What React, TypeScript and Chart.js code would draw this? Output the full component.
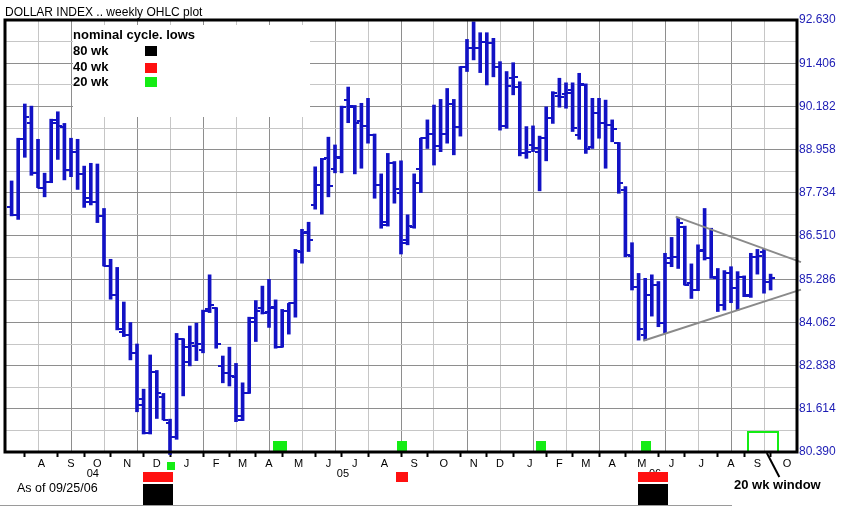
import React, { useEffect, useRef } from 'react';
import { Chart, registerables } from 'chart.js';

Chart.register(...registerables);

// Weekly OHLC bars of the US Dollar Index, first bar = week of Mon 19 Jul 2004
const opens = [
  87.34, 87.11, 89.25, 89.70, 88.29, 87.88, 88.04, 89.72, 89.61, 88.38,
  88.90, 88.27, 87.48, 87.48, 87.08, 85.66, 84.84, 83.80, 83.71, 83.19,
  81.88, 80.94, 82.67, 81.96, 81.20, 80.82, 83.58, 83.36, 83.39, 83.28,
  84.43, 84.46, 82.83, 82.62, 82.52, 81.30, 82.07, 84.08, 84.46, 84.37,
  84.51, 83.37, 84.39, 84.60, 86.07, 86.63, 87.39, 87.96, 88.71, 88.40,
  88.71, 90.36, 90.17, 89.78, 89.63, 89.37, 87.96, 86.82, 88.59, 87.74,
  86.40, 86.76, 88.40, 89.28, 89.40, 89.06, 89.40, 90.24, 89.59, 91.29,
  91.83, 91.83, 92.02, 91.97, 91.31, 89.63, 90.98, 90.74, 88.85, 89.09,
  88.90, 89.28, 89.84, 90.48, 90.53, 90.65, 89.37, 90.79, 89.04, 90.00,
  89.72, 89.66, 89.14, 87.81, 85.94, 85.07, 83.71, 84.84, 85.12, 84.04,
  85.88, 85.92, 86.77, 85.17, 84.98, 86.11, 85.88, 85.31, 84.56, 85.45,
  85.03, 85.36, 84.84, 85.92, 86.07, 85.22,
];
const highs = [
  88.07, 89.28, 90.25, 90.19, 89.25, 88.29, 89.82, 90.03, 89.70, 89.28,
  89.25, 88.49, 88.57, 88.55, 87.29, 85.85, 85.62, 84.64, 84.06, 83.45,
  82.17, 83.14, 82.70, 82.05, 81.32, 83.75, 83.60, 83.96, 84.04, 84.41,
  85.41, 84.48, 83.11, 83.36, 82.90, 82.35, 84.21, 84.68, 85.09, 85.28,
  84.70, 84.43, 84.60, 86.13, 86.70, 86.90, 88.47, 88.71, 89.31, 89.09,
  90.19, 90.73, 90.21, 90.27, 90.41, 89.40, 88.27, 88.85, 88.62, 88.64,
  87.11, 88.27, 89.28, 89.80, 90.22, 90.38, 90.69, 90.38, 91.31, 92.08,
  92.58, 92.27, 92.27, 92.11, 91.45, 91.17, 91.42, 90.88, 89.61, 89.63,
  89.34, 90.17, 90.60, 90.98, 90.85, 90.85, 91.12, 90.82, 90.41, 90.41,
  90.36, 89.80, 89.16, 87.91, 86.32, 85.45, 85.31, 85.41, 85.22, 86.02,
  86.47, 87.04, 86.79, 85.72, 86.26, 87.29, 86.73, 85.59, 85.53, 85.64,
  85.50, 85.38, 86.02, 86.13, 86.13, 85.43,
];
const lows = [
  87.08, 86.98, 88.74, 88.23, 87.88, 87.62, 88.02, 88.68, 88.10, 88.19,
  87.83, 87.32, 87.39, 86.89, 85.66, 84.72, 83.85, 83.66, 83.00, 81.53,
  80.90, 80.90, 81.34, 81.30, 80.32, 80.75, 81.98, 82.83, 82.98, 83.20,
  84.34, 83.33, 82.35, 82.26, 81.25, 81.28, 82.05, 83.52, 84.30, 83.92,
  83.33, 83.36, 83.73, 84.21, 85.74, 86.07, 87.27, 87.13, 87.62, 88.30,
  88.30, 89.72, 88.27, 88.43, 89.14, 87.58, 86.73, 86.79, 87.44, 86.00,
  86.26, 86.73, 87.74, 88.99, 88.52, 88.90, 89.14, 88.81, 89.34, 91.17,
  91.50, 91.14, 90.79, 91.02, 89.51, 89.56, 90.51, 88.78, 88.71, 88.90,
  87.79, 88.64, 89.70, 90.16, 90.13, 89.47, 89.25, 88.85, 88.99, 89.28,
  88.43, 89.18, 87.72, 85.92, 84.98, 83.56, 83.56, 84.24, 83.94, 83.75,
  85.64, 85.59, 85.12, 84.74, 84.96, 85.83, 85.31, 84.37, 84.41, 84.62,
  84.41, 84.79, 84.77, 85.43, 84.89, 84.98,
];
const closes = [
  87.11, 89.25, 89.89, 88.29, 87.88, 88.04, 89.80, 89.63, 88.38, 88.90,
  88.27, 87.58, 87.48, 87.08, 85.66, 84.84, 83.87, 83.71, 83.20, 81.72,
  80.92, 82.67, 82.05, 81.30, 80.82, 83.58, 82.95, 83.47, 83.45, 84.39,
  84.56, 83.45, 82.62, 82.54, 81.41, 82.05, 84.18, 84.39, 84.34, 84.46,
  83.37, 84.39, 84.60, 86.09, 86.59, 86.40, 87.96, 88.68, 87.93, 88.76,
  90.17, 90.19, 89.70, 89.63, 89.37, 87.96, 86.92, 88.59, 87.83, 86.32,
  86.79, 88.00, 89.28, 89.40, 89.06, 89.40, 90.24, 89.59, 91.29, 91.83,
  91.83, 92.02, 91.97, 91.29, 89.63, 90.76, 91.02, 88.87, 88.90, 88.99,
  89.28, 89.84, 90.57, 90.44, 90.55, 89.56, 90.82, 88.97, 89.99, 89.72,
  89.66, 89.53, 88.00, 85.97, 85.07, 83.87, 84.84, 85.12, 84.04, 85.74,
  85.91, 86.87, 85.12, 84.98, 86.09, 85.88, 85.36, 84.56, 85.45, 85.03,
  85.36, 84.81, 85.92, 85.94, 85.22, 85.31,
];

// right-hand price scale
const priceTicks = [80.39, 81.614, 82.838, 84.062, 85.286, 86.51, 87.734, 88.958, 90.182, 91.406, 92.63];

// month axis (week index of first bar of each month, last entry closes October 2006)
const monthStarts = [2, 7, 11, 15, 20, 24, 29, 33, 37, 41, 46, 50, 54, 59, 63, 68, 72, 76, 81, 85, 89, 93, 98, 102, 107, 111, 115, 120];
const monthLetters = ['A', 'S', 'O', 'N', 'D', 'J', 'F', 'M', 'A', 'M', 'J', 'J', 'A', 'S', 'O', 'N', 'D', 'J', 'F', 'M', 'A', 'M', 'J', 'J', 'A', 'S', 'O'];
const yearLabels = ['04', '05', '06'];
const yearWeeks = [12.3, 50.2, 97.5];

// nominal cycle lows (week index)
const lows80wk = [22.2, 97.2];
const lows40wk = [22.2, 59.1, 97.2];
const lows20wk = [40.7, 59.2, 80.2, 96.1];
const lows20wkAxis = [24.2];
const window20wk = 113.9;

// triangle trend lines
const triUpperX = [100.62, 119.6];
const triUpperY = [87.06, 85.77];
const triLowerX = [95.71, 119.6];
const triLowerY = [83.54, 84.99];

const X_MIN = -1;
const X_MAX = 119;
const GRID_EVERY = 5;

const FONT = '"Liberation Sans", Arial, sans-serif';
const BLUE = '#1212c4';
const GREEN = '#14ec14';
const RED = '#ff1010';
const DARK = '#8e8e8e';
const LIGHT = '#c6c6c6';
const CLEAR = 'rgba(0,0,0,0)';

function buildXTicks() {
  const m = new Map<number, any>();
  const get = (v: number) => {
    const key = Math.round(v * 100) / 100;
    if (!m.has(key)) m.set(key, { value: key, lbl: '' });
    return m.get(key);
  };
  for (let k = 1; k * GRID_EVERY + X_MIN < X_MAX; k++) {
    const t = get(k * GRID_EVERY + X_MIN);
    t.grid = true;
    t.dark = k % 2 === 0;
  }
  monthStarts.forEach((s, j) => {
    if (s > X_MIN && s < X_MAX) get(s).mark = true;
    if (j < monthLetters.length) get((s + monthStarts[j + 1]) / 2).lbl = monthLetters[j];
  });
  return [...m.values()].sort((a, b) => a.value - b.value);
}

function buildYTicks() {
  const out: any[] = [];
  priceTicks.forEach((v, j) => {
    out.push({ value: v, lbl: v.toFixed(3), dark: true });
    if (j < priceTicks.length - 1) out.push({ value: (v + priceTicks[j + 1]) / 2, lbl: '', dark: false });
  });
  return out;
}

const decor = {
  id: 'decor',
  beforeDatasetsDraw(chart: any) {
    const { ctx } = chart;
    ctx.save();
    ctx.fillStyle = '#fff';
    ctx.fillRect(73, 25, 237, 92);
    ctx.fillStyle = '#000';
    ctx.font = `bold 13px ${FONT}`;
    ctx.textBaseline = 'middle';
    ctx.textAlign = 'left';
    ctx.fillText('nominal cycle. lows', 73, 35);
    ctx.fillText('80 wk', 73, 51);
    ctx.fillText('40 wk', 73, 67);
    ctx.fillText('20 wk', 73, 82);
    ctx.fillStyle = '#000';
    ctx.fillRect(145, 46, 12, 10);
    ctx.fillStyle = RED;
    ctx.fillRect(145, 63, 12, 10);
    ctx.fillStyle = GREEN;
    ctx.fillRect(145, 77, 12, 10);
    ctx.restore();
  },
  afterDatasetsDraw(chart: any) {
    const { ctx, chartArea } = chart;
    const xs = chart.scales.x;
    ctx.save();
    // 20 wk lows sitting on the bottom of the plot
    lows20wk.forEach((w, j) => {
      const cx = xs.getPixelForValue(w);
      const wd = j === 0 ? 14 : 10;
      ctx.fillStyle = GREEN;
      ctx.fillRect(Math.round(cx - wd / 2), chartArea.bottom - 11, wd, 11);
    });
    // 20 wk window
    const wx = xs.getPixelForValue(window20wk);
    ctx.strokeStyle = GREEN;
    ctx.lineWidth = 2;
    ctx.strokeRect(Math.round(wx - 15), chartArea.bottom - 20, 30, 20);
    // plot frame
    ctx.strokeStyle = '#000';
    ctx.lineWidth = 3;
    ctx.strokeRect(chartArea.left, chartArea.top, chartArea.right - chartArea.left, chartArea.bottom - chartArea.top);
    ctx.restore();
  },
  afterDraw(chart: any) {
    const { ctx, chartArea } = chart;
    const xs = chart.scales.x;
    ctx.save();
    ctx.fillStyle = '#000';
    ctx.textBaseline = 'middle';
    ctx.textAlign = 'left';
    ctx.font = `12px ${FONT}`;
    ctx.fillText('DOLLAR INDEX .. weekly OHLC plot', 5, 13);
    ctx.font = `12.5px ${FONT}`;
    ctx.fillText('As of 09/25/06', 17, 489);
    ctx.font = `11px ${FONT}`;
    ctx.textAlign = 'center';
    yearLabels.forEach((t, j) => ctx.fillText(t, xs.getPixelForValue(yearWeeks[j]), 474));
    // cycle-low markers below the axis
    lows20wkAxis.forEach((w) => {
      ctx.fillStyle = GREEN;
      ctx.fillRect(Math.round(xs.getPixelForValue(w) - 4), 462, 8, 8);
    });
    lows40wk.forEach((w) => {
      const wd = lows80wk.some((v) => Math.abs(v - w) < 1) ? 30 : 12;
      ctx.fillStyle = RED;
      ctx.fillRect(Math.round(xs.getPixelForValue(w) - wd / 2), 472, wd, 10);
    });
    lows80wk.forEach((w) => {
      ctx.fillStyle = '#000';
      ctx.fillRect(Math.round(xs.getPixelForValue(w) - 15), 484, 30, 22);
    });
    // 20 wk window call-out
    const wx = xs.getPixelForValue(window20wk);
    ctx.strokeStyle = '#000';
    ctx.lineWidth = 2;
    ctx.beginPath();
    ctx.moveTo(wx + 3.5, chartArea.bottom + 1);
    ctx.lineTo(wx + 16, 477);
    ctx.stroke();
    ctx.fillStyle = '#000';
    ctx.font = `bold 13px ${FONT}`;
    ctx.textAlign = 'center';
    ctx.fillText('20 wk window', wx + 14, 485);
    // bottom gray rule
    ctx.fillStyle = '#9a9a9a';
    ctx.fillRect(0, 505, 732, 1);
    ctx.restore();
  },
};

export default function App() {
  const ref = useRef<HTMLCanvasElement>(null);
  useEffect(() => {
    const canvas = ref.current;
    if (!canvas) return;
    const mkTick = (left: boolean) => {
      const c = document.createElement('canvas');
      c.width = 9;
      c.height = 2;
      const g = c.getContext('2d')!;
      g.fillStyle = BLUE;
      g.fillRect(left ? 0 : 4, 0, 5, 2);
      return c;
    };
    const openTick = mkTick(true);
    const closeTick = mkTick(false);
    const idx = opens.map((_, i) => i);
    const xTicks = buildXTicks();
    const yTicks = buildYTicks();

    const chart = new Chart(canvas, {
      type: 'bar',
      data: {
        datasets: [
          {
            type: 'bar',
            data: idx.map((i) => ({ x: i, y: [lows[i], highs[i]] })) as any,
            backgroundColor: BLUE,
            borderWidth: 0,
            barThickness: 3,
            clip: false as any,
            order: 3,
          },
          {
            type: 'line',
            data: idx.map((i) => ({ x: i, y: opens[i] })) as any,
            showLine: false,
            pointStyle: openTick as any,
            pointRadius: 3,
            order: 1,
          },
          {
            type: 'line',
            data: idx.map((i) => ({ x: i, y: closes[i] })) as any,
            showLine: false,
            pointStyle: closeTick as any,
            pointRadius: 3,
            order: 1,
          },
          {
            type: 'line',
            data: triUpperX.map((x, j) => ({ x, y: triUpperY[j] })) as any,
            borderColor: '#8a8a8a',
            borderWidth: 2,
            pointRadius: 0,
            clip: false as any,
            order: 0,
          },
          {
            type: 'line',
            data: triLowerX.map((x, j) => ({ x, y: triLowerY[j] })) as any,
            borderColor: '#8a8a8a',
            borderWidth: 2,
            pointRadius: 0,
            clip: false as any,
            order: 0,
          },
        ],
      },
      options: {
        responsive: false,
        animation: false,
        devicePixelRatio: 1,
        events: [],
        layout: { padding: { left: 5, top: 20, right: 0, bottom: 0 } },
        plugins: { legend: { display: false }, tooltip: { enabled: false }, title: { display: false } },
        scales: {
          x: {
            type: 'linear',
            min: X_MIN,
            max: X_MAX,
            offset: false,
            position: 'bottom',
            border: { display: false },
            grid: {
              offset: false,
              drawOnChartArea: true,
              drawTicks: true,
              tickLength: 5,
              tickWidth: 2,
              lineWidth: 1,
              color: (c: any) => (c.tick && c.tick.grid ? (c.tick.dark ? DARK : LIGHT) : CLEAR),
              tickColor: (c: any) => (c.tick && c.tick.mark ? '#000' : CLEAR),
            },
            ticks: {
              autoSkip: false,
              maxRotation: 0,
              minRotation: 0,
              padding: 0,
              color: '#000',
              font: { family: FONT, size: 11 },
              callback: (_v: any, i: number, ticks: any[]) => ticks[i].lbl,
            },
            afterBuildTicks: (s: any) => {
              s.ticks = xTicks.map((t) => ({ ...t }));
            },
            afterFit: (s: any) => {
              s.height = 55;
            },
          } as any,
          y: {
            type: 'linear',
            position: 'right',
            min: priceTicks[0],
            max: priceTicks[priceTicks.length - 1],
            border: { display: false },
            grid: {
              drawTicks: false,
              lineWidth: 1,
              color: (c: any) => (c.tick && c.tick.dark ? DARK : LIGHT),
            },
            ticks: {
              padding: 2,
              color: '#1c1cb4',
              font: { family: FONT, size: 12 },
              callback: (_v: any, i: number, ticks: any[]) => ticks[i].lbl,
            },
            afterBuildTicks: (s: any) => {
              s.ticks = yTicks.map((t) => ({ ...t }));
            },
            afterFit: (s: any) => {
              s.width = 48;
            },
          } as any,
        },
      },
      plugins: [decor],
    } as any);
    return () => chart.destroy();
  }, []);

  return (
    <div style={{ position: 'fixed', left: 0, top: 0, width: 845, height: 507, background: '#fff' }}>
      <canvas ref={ref} width={845} height={507} style={{ display: 'block', width: 845, height: 507 }} />
    </div>
  );
}
